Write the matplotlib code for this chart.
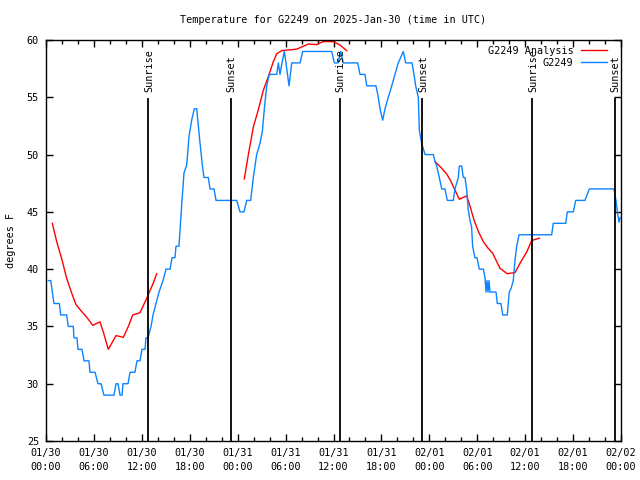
import numpy as np
import matplotlib.pyplot as plt

# hours since 2025-01-30 00:00 UTC
obs_hours = [0.29, 0.59, 1.0, 1.67, 1.84, 2.59, 2.79, 3.42, 3.5, 3.88, 4.0, 4.5, 4.76, 5.38,
             5.51, 6.14, 6.51, 6.89, 7.26, 8.51, 8.77, 9.02, 9.27, 9.52, 9.64, 10.27, 10.52,
             11.14, 11.39, 11.77, 12.02, 12.4, 12.52, 12.77, 13.15, 13.4, 13.77, 14.15, 14.65,
             15.03, 15.53, 15.78, 16.15, 16.28, 16.65, 16.78, 17.03, 17.28, 17.62, 17.91, 18.24,
             18.57, 18.87, 19.2, 19.57, 19.78, 20.32, 20.54, 21.04, 21.29, 23.88, 24.29, 24.79,
             25.13, 25.63, 25.96, 26.38, 26.8, 27.09, 27.34, 27.64, 27.96, 28.89, 29.09, 29.3,
             29.55, 29.84, 30.05, 30.43, 30.77, 31.81, 32.14, 35.78, 36.1, 36.56, 36.9, 37.23,
             39.03, 39.32, 39.94, 40.16, 41.32, 41.61, 41.82, 42.16, 42.45, 42.86, 43.29, 43.7,
             44.11, 44.74, 45.04, 45.83, 46.08, 46.29, 46.62, 46.75, 47.04, 47.46, 48.5, 48.71,
             48.92, 49.25, 49.55, 49.96, 50.25, 51.0, 51.21, 51.63, 51.75, 52.05, 52.25, 52.46,
             52.67, 52.87, 53.08, 53.29, 53.42, 53.71, 53.96, 54.26, 54.76, 54.97, 55.1, 55.22,
             55.35, 55.47, 55.6, 55.81, 56.35, 56.51, 56.97, 57.19, 57.76, 58.01, 58.23, 58.51,
             58.73, 58.94, 59.23, 63.32, 63.52, 65.08, 65.28, 66.03, 66.33, 67.49, 68.03, 71.12,
             71.37, 71.54, 71.75, 71.88]
obs_temp = [39, 39, 37, 37, 36, 36, 35, 35, 34, 34, 33, 33, 32, 32,
            31, 31, 30, 30, 29, 29, 30, 30, 29, 29, 30, 30, 31,
            31, 32, 32, 33, 33, 34, 34, 35, 36, 37, 38, 39,
            40, 40, 41, 41, 42, 42, 43.4, 46, 48.4, 49.1, 51.6, 53,
            54, 54, 51.6, 49.1, 48, 48, 47, 47, 46, 46, 45, 45,
            46, 46, 48, 50, 51, 52, 54, 56, 57, 57, 58, 57,
            58, 59, 58, 56, 58, 58, 59, 59, 58, 58, 59, 58,
            58, 57, 57, 56, 56, 55, 54, 53, 54, 55, 56, 57,
            58, 59, 58, 58, 57, 56, 55, 52.1, 51, 50, 50, 49.4,
            49, 48, 47, 47, 46, 46, 47, 48, 49, 49, 48, 48,
            47, 45.2, 44.3, 43.7, 42, 41, 41, 40, 40, 39.3, 38, 39,
            38, 39, 38, 38, 38, 37, 37, 36, 36, 38, 38.3, 39,
            40.8, 42, 43, 43, 44, 44, 45, 45, 46, 46, 47, 47,
            46, 45, 44.1, 44.5]

ana_hours = [0.79, 1.34, 1.97, 2.59, 3.22, 3.76, 4.47, 5.1, 5.85, 6.76, 7.18, 7.8, 8.77, 9.68,
             10.31, 10.86, 11.77, 12.61, 13.44, 13.86, np.nan,
             24.83, 25.33, 25.96, 26.58, 27.21, 27.84, 28.46, 28.89, 29.51, 31.39, 32.85, 33.9,
             34.72, 35.98, 36.81, 37.65, np.nan,
             48.71, 49.55, 50.18, 50.68, 51.21, 51.75, 52.68, 53.18, 53.59, 54.13, 54.76, 55.38,
             55.93, 56.44, 56.85, 57.76, 58.73, 59.35, 60.19, 60.82, 61.77]
ana_temp = [44.0, 42.4, 40.9, 39.2, 37.9, 36.9, 36.3, 35.8, 35.1, 35.4, 34.5, 33.0, 34.2, 34.05,
            35.0, 36.0, 36.2, 37.45, 38.8, 39.6, np.nan,
            47.87, 49.96, 52.4, 53.9, 55.6, 56.8, 58.1, 58.8, 59.07, 59.2, 59.65, 59.6,
            59.86, 59.86, 59.56, 59.07, np.nan,
            49.4, 48.8, 48.3, 47.7, 46.9, 46.1, 46.4, 45.3, 44.3, 43.3, 42.4, 41.8,
            41.4, 40.65, 40.07, 39.6, 39.7, 40.5, 41.5, 42.5, 42.7]

sun_hours = [12.8, 23.12, 36.82, 47.1, 60.88, 71.2]
sun_labels = ['Sunrise', 'Sunset', 'Sunrise', 'Sunset', 'Sunrise', 'Sunset']

tick_hours = list(range(0, 73, 6))
tick_labels = ['01/30\n00:00', '01/30\n06:00', '01/30\n12:00', '01/30\n18:00',
               '01/31\n00:00', '01/31\n06:00', '01/31\n12:00', '01/31\n18:00',
               '02/01\n00:00', '02/01\n06:00', '02/01\n12:00', '02/01\n18:00',
               '02/02\n00:00']

plt.rcParams['font.family'] = 'DejaVu Sans Mono'
plt.rcParams['font.size'] = 7.3

fig = plt.figure(figsize=(6.4, 4.8), dpi=100)
ax = fig.add_axes([46 / 640, 39 / 480, 575 / 640, 401 / 480])

ax.plot(ana_hours, ana_temp, color='#ff0000', lw=1.0, label='G2249 Analysis')
ax.plot(obs_hours, obs_temp, color='#0a84ff', lw=1.0, label='G2249')

for h, lab in zip(sun_hours, sun_labels):
    ax.plot([h, h], [25, 54.85], color='black', lw=1.3)
    ax.text(h + 0.1, 55.5, lab, rotation=90, ha='center', va='bottom')

ax.set_xlim(0, 72)
ax.set_ylim(25, 60)
ax.set_xticks(tick_hours)
ax.set_xticklabels(tick_labels, linespacing=1.5)
ax.set_xticks(range(0, 73, 2), minor=True)
ax.set_yticks(range(25, 61, 5))
ax.tick_params(direction='in', top=True, right=True, length=5, width=1, pad=5)
ax.tick_params(which='minor', direction='in', top=True, bottom=True, length=3, width=1)
for s in ax.spines.values():
    s.set_linewidth(1.0)

ax.set_ylabel('degrees F', labelpad=8)
ax.set_title('Temperature for G2249 on 2025-Jan-30 (time in UTC)', fontsize=7.3, pad=12)

leg = ax.legend(loc='upper right', bbox_to_anchor=(0.9757, 0.985), frameon=False,
                markerfirst=False, handlelength=2.6, borderaxespad=0, borderpad=0,
                labelspacing=0.2, handletextpad=0.7)

fig.savefig('out.png', dpi=100)
